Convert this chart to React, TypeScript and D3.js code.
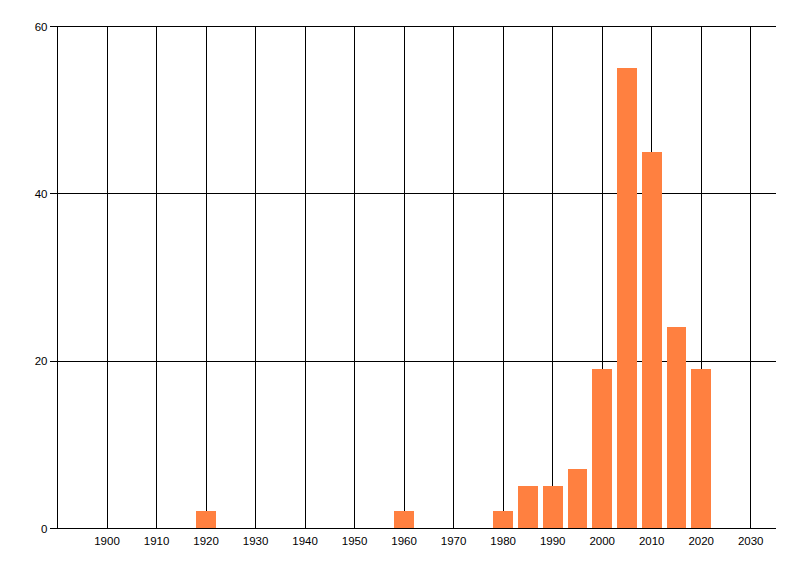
import React from "react";
import * as d3 from "d3";

const years = [1920, 1960, 1980, 1985, 1990, 1995, 2000, 2005, 2010, 2015, 2020];
const counts = [2, 2, 2, 5, 5, 7, 19, 55, 45, 24, 19];
const xTicks = [1900, 1910, 1920, 1930, 1940, 1950, 1960, 1970, 1980, 1990, 2000, 2010, 2020, 2030];
const yTicks = [0, 20, 40, 60];

const W = 800;
const H = 576;
const left = 57.5;
const right = 775.5;
const top = 26;
const bottom = 528;

export default function App() {
  const x = d3.scaleLinear().domain([1890, 2035]).range([left, right]);
  const y = d3.scaleLinear().domain([0, 60]).range([bottom, top]);
  const barHalf = 2;
  const font = "'Liberation Sans', Arial, sans-serif";
  return (
    <svg
      width={W}
      height={H}
      style={{ position: "absolute", left: 0, top: 0, background: "#fff" }}
    >
      <g shapeRendering="crispEdges">
        {xTicks.map((t) => (
          <line key={"gx" + t} x1={Math.floor(x(t)) + 0.5} x2={Math.floor(x(t)) + 0.5} y1={y(60)} y2={y(0)} stroke="#000" strokeWidth={1} />
        ))}
        {yTicks.map((t) => (
          <line key={"gy" + t} x1={left - 8} x2={right} y1={Math.round(y(t)) + 0.5} y2={Math.round(y(t)) + 0.5} stroke="#000" strokeWidth={1} />
        ))}
        <line x1={left} x2={left} y1={top} y2={bottom} stroke="#000" />
        {years.map((yr, i) => (
          <rect
            key={"b" + yr}
            x={x(yr - barHalf)}
            width={x(yr + barHalf) - x(yr - barHalf)}
            y={y(counts[i])}
            height={y(0) - y(counts[i])}
            fill="#ff8040"
          />
        ))}
        <line x1={left - 8} x2={right} y1={Math.round(y(0)) + 0.5} y2={Math.round(y(0)) + 0.5} stroke="#000" />
      </g>
      {yTicks.map((t) => (
        <text key={"ly" + t} x={left - 10} y={y(t) + 0.5} dy="0.35em" textAnchor="end" fontFamily={font} fontSize={11.5} fill="#000">
          {t}
        </text>
      ))}
      {xTicks.map((t) => (
        <text key={"lx" + t} x={x(t)} y={bottom + 17} textAnchor="middle" fontFamily={font} fontSize={11.5} fill="#000">
          {t}
        </text>
      ))}
    </svg>
  );
}
